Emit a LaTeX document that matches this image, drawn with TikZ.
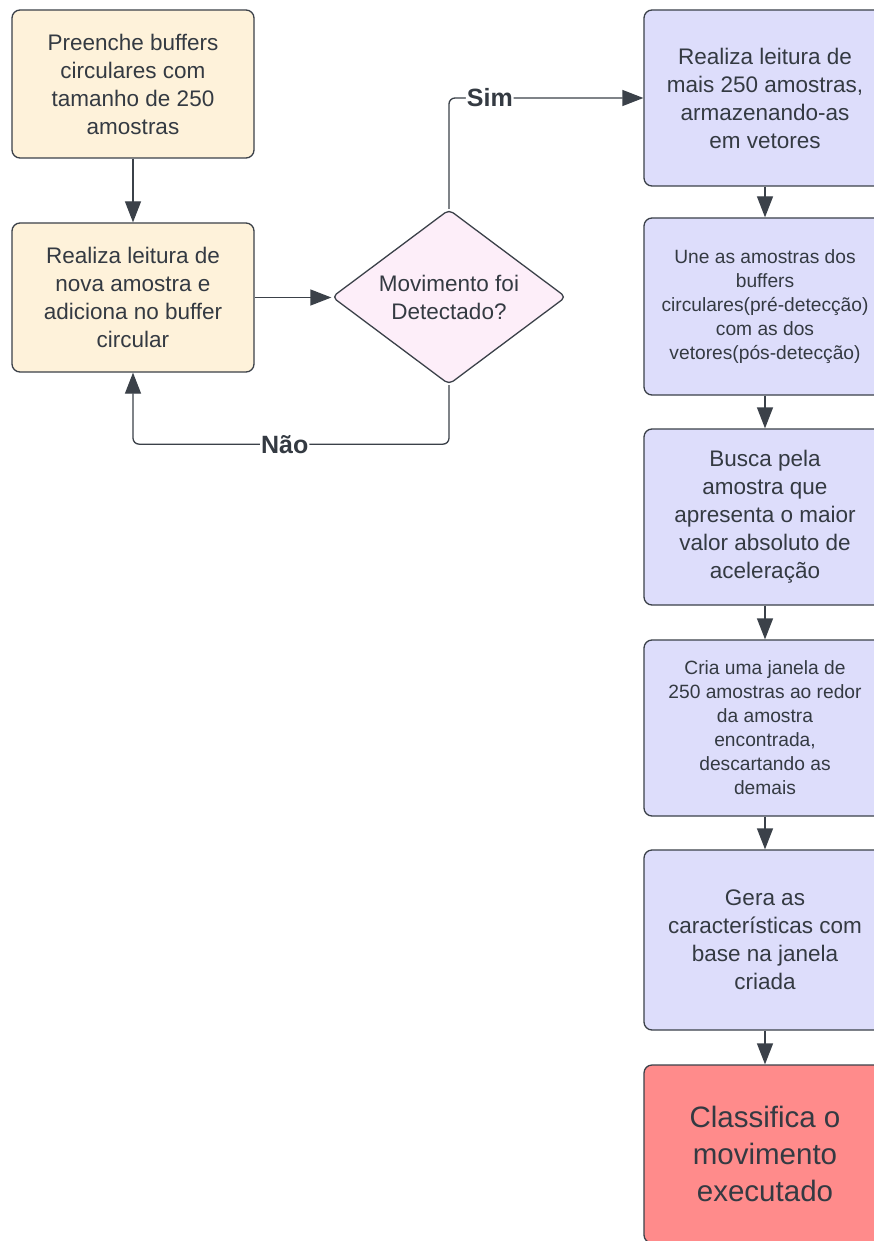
\documentclass[tikz,border=0pt]{standalone}
\usepackage{fontspec}
\setmainfont{Liberation Sans}
\usetikzlibrary{arrows.meta,shapes.geometric}
\definecolor{cream}{HTML}{FEF2DA}
\definecolor{lav}{HTML}{DDDDFB}
\definecolor{pinkd}{HTML}{FDEEF9}
\definecolor{redbox}{HTML}{FF8B8B}
\definecolor{edge}{HTML}{3B4149}
\definecolor{txt}{HTML}{343A42}
\tikzset{
  box/.style={draw=edge, line width=1.3pt, rounded corners=8pt, minimum width=242pt, align=center, text=txt, inner sep=1pt, font=\fontsize{22.5}{28}\selectfont},
  cbox/.style={box, fill=cream},
  lbox/.style={box, fill=lav},
  smalltxt/.style={font=\fontsize{19.2}{24}\selectfont},
  bigtxt/.style={font=\fontsize{29.5}{37}\selectfont},
  dec/.style={diamond, draw=edge, line width=1.3pt, rounded corners=5pt, fill=pinkd, aspect=1.337, minimum width=234pt, minimum height=175pt, inner sep=0pt, align=center, text=txt, font=\fontsize{22.5}{28}\selectfont},
  arr/.style={draw=edge, line width=1.3pt, -{Triangle[length=21pt,width=16pt]}},
  lbl/.style={fill=white, inner sep=1pt, text=txt, font=\fontsize{25}{28}\selectfont\bfseries}
}
\begin{document}
\begin{tikzpicture}[x=1pt,y=-1pt]
\useasboundingbox[fill=white] (0,0) rectangle (874,1241);
\node[cbox, minimum height=148pt] (b1) at (133,84) {Preenche buffers\\circulares com\\tamanho de 250\\amostras};
\node[cbox, minimum height=149pt] (b2) at (133,297.5) {Realiza leitura de\\nova amostra e\\adiciona no buffer\\circular};
\node[dec] (d) at (449,297) {Movimento foi\\Detectado?};
\node[lbox, minimum height=176pt] (r1) at (765,98) {Realiza leitura de\\mais 250 amostras,\\armazenando-as\\em vetores};
\node[lbox, smalltxt, minimum height=177pt] (r2) at (765,306.5) {Une as amostras dos\\buffers\\circulares(pré-detecção)\\com as dos\\vetores(pós-detecção)};
\node[lbox, minimum height=176pt] (r3) at (765,517) {Busca pela\\amostra que\\apresenta o maior\\valor absoluto de\\aceleração};
\node[lbox, smalltxt, minimum height=176pt] (r4) at (765,728) {Cria uma janela de\\250 amostras ao redor\\da amostra\\encontrada,\\descartando as\\demais};
\node[lbox, minimum height=180pt] (r5) at (765,940) {Gera as\\características com\\base na janela\\criada};
\node[box, fill=redbox, bigtxt, minimum height=178pt] (r6) at (765,1154) {Classifica o\\movimento\\executado};
\draw[arr] (b1.south) -- (b2.north);
\draw[arr] (b2.east) -- (b2.east -| d.west);
\draw[arr, rounded corners=6pt] (d.north) |- node[lbl, pos=0.605] {Sim} (r1.west);
\draw[arr, rounded corners=6pt] (d.south) -- ++(0,59) -| node[lbl, pos=0.26] {Não} (b2.south);
\draw[arr] (r1.south) -- (r2.north);
\draw[arr] (r2.south) -- (r3.north);
\draw[arr] (r3.south) -- (r4.north);
\draw[arr] (r4.south) -- (r5.north);
\draw[arr] (r5.south) -- (r6.north);
\end{tikzpicture}
\end{document}
